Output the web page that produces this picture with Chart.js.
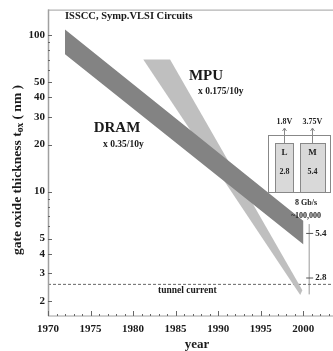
<!DOCTYPE html>
<html><head><meta charset="utf-8">
<script src="https://cdn.jsdelivr.net/npm/chart.js@4.4.0/dist/chart.umd.min.js"></script>
<style>html,body{margin:0;padding:0;background:#fff}</style>
</head><body>
<canvas id="c" width="333" height="351" style="display:block"></canvas>
<script>
// ---- data ----
const xTickYears = [1970, 1975, 1980, 1985, 1990, 1995, 2000];
const yTickLabels = [2, 3, 4, 5, 10, 20, 30, 40, 50, 100];
const yAllTicks = [2, 3, 4, 5, 6, 7, 8, 9, 10, 20, 30, 40, 50, 60, 70, 80, 90, 100];
const dramBandYears = [1972.0, 2000.0, 2000.0, 1972.0];
const dramBandValues = [109, 6.5, 4.6, 75.7];
const mpuBandYears = [1981.2, 1984.35, 1999.9, 1999.65];
const mpuBandValues = [70, 70, 2.34, 2.18];
const tunnelLimit = 2.55;
const rangeYear = 2000.7;
const rangeValues = [5.4, 2.8];
const rangeLabels = ['5.4', '2.8'];

const SERIF = '"Liberation Serif","DejaVu Serif",serif';
const zip = (xs, ys) => xs.map((x, i) => ({x, y: ys[i]}));

const deco = {
  id: 'deco',
  afterDatasetsDraw(chart) {
    const ctx = chart.ctx, a = chart.chartArea;
    const xs = chart.scales.x, ys = chart.scales.y;
    ctx.save();
    // frame
    ctx.strokeStyle = '#a0a0a0'; ctx.lineWidth = 1;
    ctx.strokeRect(a.left + 0.5, a.top + 0.5, a.right - a.left, a.bottom - a.top - 0.5);
    ctx.beginPath(); ctx.moveTo(a.left + 0.5, a.top); ctx.lineTo(a.left + 0.5, a.bottom); ctx.lineWidth = 1.5; ctx.stroke();
    // inside ticks
    ctx.strokeStyle = '#666'; ctx.lineWidth = 1;
    yAllTicks.forEach(v => {
      const y = Math.round(ys.getPixelForValue(v)) + 0.5;
      const L = yTickLabels.includes(v) ? 4 : 2;
      ctx.beginPath(); ctx.moveTo(a.left, y); ctx.lineTo(a.left + L, y); ctx.stroke();
    });
    for (let yr = 1970; yr <= 2003; yr++) {
      const x = Math.round(xs.getPixelForValue(yr)) + 0.5;
      const L = yr % 5 === 0 ? 5 : 2;
      ctx.beginPath(); ctx.moveTo(x, a.bottom); ctx.lineTo(x, a.bottom - L); ctx.stroke();
    }
    // range marker ticks + labels
    ctx.fillStyle = '#222';
    ctx.font = 'bold 9px ' + SERIF; ctx.textAlign = 'left'; ctx.textBaseline = 'middle';
    rangeValues.forEach((v, i) => {
      const y = ys.getPixelForValue(v), x = xs.getPixelForValue(rangeYear);
      ctx.strokeStyle = '#555';
      ctx.beginPath(); ctx.moveTo(x - 3, y); ctx.lineTo(x + 4, y); ctx.stroke();
      ctx.fillText(rangeLabels[i], x + 6, y);
    });
    // text labels
    const T = (s, x, y, size, align) => {
      ctx.font = 'bold ' + size + 'px ' + SERIF; ctx.textAlign = align || 'left';
      ctx.textBaseline = 'middle'; ctx.fillText(s, x, y);
    };
    ctx.fillStyle = '#1a1a1a';
    T('ISSCC, Symp.VLSI Circuits', 65, 16, 10.5);
    T('DRAM', 117, 128, 15, 'center');
    T('x 0.35/10y', 103, 145, 9.5);
    T('MPU', 206, 76, 15, 'center');
    T('x 0.175/10y', 198, 92, 9.5);
    T('tunnel current', 158, 291, 9.5);
    // inset box
    ctx.strokeStyle = '#888'; ctx.lineWidth = 1;
    ctx.fillStyle = '#fff';
    ctx.fillRect(268, 135, 62, 57); ctx.strokeRect(268.5, 135.5, 62, 57);
    ctx.fillStyle = '#d9d9d9';
    ctx.fillRect(275, 143, 18, 49); ctx.strokeRect(275.5, 143.5, 18, 49);
    ctx.fillRect(300, 143, 25, 49); ctx.strokeRect(300.5, 143.5, 25, 49);
    // arrows
    [[284.5, '1.8V'], [312.5, '3.75V']].forEach(([x, s]) => {
      ctx.beginPath(); ctx.moveTo(x, 143); ctx.lineTo(x, 128); ctx.stroke();
      ctx.beginPath(); ctx.moveTo(x - 2, 131); ctx.lineTo(x, 128); ctx.lineTo(x + 2, 131); ctx.stroke();
      ctx.fillStyle = '#222'; T(s, x, 122, 8, 'center');
    });
    ctx.fillStyle = '#222';
    T('L', 284.5, 153, 9, 'center'); T('2.8', 284.5, 172, 8, 'center');
    T('M', 312.5, 153, 9, 'center'); T('5.4', 312.5, 172, 8, 'center');
    T('8 Gb/s', 306, 203, 8, 'center');
    T('~100,000', 306, 216, 8, 'center');
    // axis titles
    ctx.fillStyle = '#1a1a1a';
    T('year', 197, 345, 13, 'center');
    ctx.translate(18, 170); ctx.rotate(-Math.PI / 2);
    const f1 = 'bold 13.5px ' + SERIF, f2 = 'bold 9.5px ' + SERIF;
    const p1 = 'gate oxide thickness t', p2 = 'ox', p3 = ' ( nm )';
    ctx.font = f1; const w1 = ctx.measureText(p1).width, w3 = ctx.measureText(p3).width;
    ctx.font = f2; const w2 = ctx.measureText(p2).width;
    let x0 = -(w1 + w2 + w3) / 2;
    ctx.textAlign = 'left'; ctx.textBaseline = 'middle';
    ctx.font = f1; ctx.fillText(p1, x0, 0); x0 += w1;
    ctx.font = f2; ctx.fillText(p2, x0, 3); x0 += w2;
    ctx.font = f1; ctx.fillText(p3, x0, 0);
    ctx.restore();
  }
};

new Chart(document.getElementById('c'), {
  type: 'scatter',
  data: {
    datasets: [
      { label: 'DRAM', data: zip(dramBandYears, dramBandValues), showLine: true, fill: 'shape',
        backgroundColor: '#838383', borderColor: '#838383', borderWidth: 0, pointRadius: 0 },
      { label: 'MPU', data: zip(mpuBandYears, mpuBandValues), showLine: true, fill: 'shape',
        backgroundColor: '#bfbfbf', borderColor: '#bfbfbf', borderWidth: 0, pointRadius: 0 },
      { label: 'tunnel', data: [{x: 1970, y: tunnelLimit}, {x: 2003.5, y: tunnelLimit}], showLine: true,
        borderColor: '#666', borderWidth: 1, borderDash: [3, 2], pointRadius: 0, fill: false },
      { label: 'range', data: [{x: rangeYear, y: 2.2}, {x: rangeYear, y: 6.2}], showLine: true,
        borderColor: '#999', borderWidth: 1, pointRadius: 0, fill: false }
    ]
  },
  options: {
    responsive: false, animation: false, devicePixelRatio: 1,
    layout: { padding: { top: 8, right: 0, left: 0, bottom: 0 } },
    plugins: { legend: { display: false }, tooltip: { enabled: false } },
    scales: {
      x: {
        type: 'linear', min: 1970, max: 2003.5,
        afterBuildTicks: s => { s.ticks = xTickYears.map(v => ({value: v})); },
        afterFit: s => { s.height = 35; },
        grid: { display: false, drawTicks: false, tickLength: 0 }, border: { display: false },
        ticks: { padding: 7, color: '#1a1a1a', font: { family: SERIF, size: 11, weight: 'bold' },
                 callback: v => String(v), autoSkip: false, maxRotation: 0 }
      },
      y: {
        type: 'logarithmic', min: 1.6, max: 146,
        afterBuildTicks: s => { s.ticks = yAllTicks.map(v => ({value: v})); },
        afterFit: s => { s.width = 48; },
        grid: { display: false, drawTicks: false, tickLength: 0 }, border: { display: false },
        ticks: { padding: 3, color: '#1a1a1a', font: { family: SERIF, size: 11, weight: 'bold' },
                 autoSkip: false, callback: v => yTickLabels.includes(v) ? String(v) : '' }
      }
    }
  },
  plugins: [deco]
});
</script>
</body></html>
